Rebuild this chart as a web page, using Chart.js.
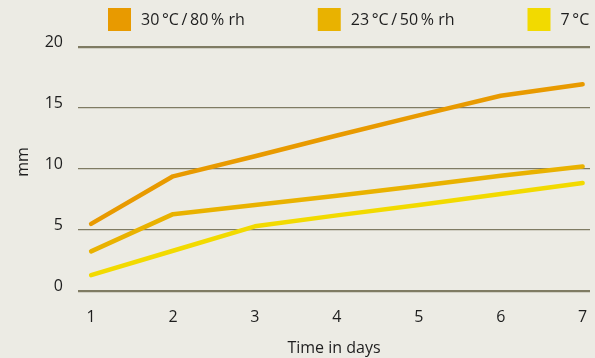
<!DOCTYPE html>
<html>
<head>
<meta charset="utf-8">
<script src="https://cdn.jsdelivr.net/npm/chart.js@4.4.1/dist/chart.umd.min.js"></script>
<style>
  html, body { margin: 0; padding: 0; background: #ecebe4; }
  #wrap { width: 595px; height: 358px; }
</style>
</head>
<body>
<div id="wrap"><canvas id="chart" width="595" height="358"></canvas></div>
<script>
const days = [1, 2, 3, 4, 5, 6, 7];
const labels = ['30\u2009°C\u2009/\u200980\u2009% rh', '23\u2009°C\u2009/\u200950\u2009% rh', '7\u2009°C'];
const hot = [5.5, 9.4, 11.05, 12.75, 14.4, 16.0, 16.95];
const mid = [3.25, 6.3, 7.05, 7.8, 8.6, 9.45, 10.2];
const cold = [1.3, 3.3, 5.3, 6.2, 7.05, 7.95, 8.85];
const yTicks = [0, 5, 10, 15, 20];

const colors = ['#e89a00', '#e9b200', '#f2da00'];
const fontFamily = '"Open Sans", "Noto Sans", sans-serif';
const textColor = '#1e1e1e';

function toPoints(values) {
    return values.map((v, i) => ({ x: days[i], y: v }));
}

function makeSet(i, values) {
    return {
        label: labels[i],
        data: toPoints(values),
        borderColor: colors[i],
        backgroundColor: colors[i],
        borderWidth: 4.5,
        borderCapStyle: 'round',
        borderJoinStyle: 'round',
        pointRadius: 0,
        tension: 0,
        clip: false
    };
}

// background, legend row and the rotated "mm" label
const paperPlugin = {
    id: 'paper',
    beforeDraw(chart) {
        const ctx = chart.ctx;
        ctx.save();
        ctx.fillStyle = '#ecebe4';
        ctx.fillRect(0, 0, chart.width, chart.height);
        ctx.restore();
    },
    afterDraw(chart) {
        const ctx = chart.ctx;
        ctx.save();
        ctx.font = '16px ' + fontFamily;
        ctx.textBaseline = 'middle';
        let x = 108;
        chart.data.datasets.forEach((ds) => {
            ctx.fillStyle = ds.borderColor;
            ctx.fillRect(x, 8, 23, 23);
            ctx.fillStyle = textColor;
            ctx.fillText(ds.label, x + 33, 20);
            x += 33 + ctx.measureText(ds.label).width + 73;
        });

        ctx.translate(23, 162);
        ctx.rotate(-Math.PI / 2);
        ctx.textAlign = 'center';
        ctx.fillText('mm', 0, 0);
        ctx.restore();
    }
};

new Chart(document.getElementById('chart'), {
    type: 'line',
    data: {
        datasets: [makeSet(0, hot), makeSet(1, mid), makeSet(2, cold)]
    },
    options: {
        responsive: false,
        animation: false,
        layout: { padding: { top: 47, right: 5, left: 0, bottom: 0 } },
        plugins: {
            legend: { display: false },
            tooltip: { enabled: false }
        },
        scales: {
            x: {
                type: 'linear',
                min: 0.84,
                max: 7.09,
                afterBuildTicks: scale => { scale.ticks = days.map(v => ({ value: v })); },
                afterFit: scale => {
                    scale.height = 67;
                    scale.paddingLeft = 0;
                    scale.paddingRight = 0;
                },
                grid: { display: false, drawTicks: false },
                border: { display: false },
                ticks: {
                    padding: 17,
                    color: textColor,
                    font: { family: fontFamily, size: 16 }
                },
                title: {
                    display: true,
                    text: 'Time in days',
                    color: textColor,
                    padding: { top: 3, bottom: 0 },
                    font: { family: fontFamily, size: 16 }
                }
            },
            y: {
                min: 0,
                max: 20,
                afterBuildTicks: scale => { scale.ticks = yTicks.map(v => ({ value: v })); },
                afterFit: scale => { scale.width = 78; },
                grid: {
                    color: '#7f7b63',
                    drawTicks: false,
                    lineWidth: c => (c.tick && (c.tick.value === 0 || c.tick.value === 20)) ? 2.2 : 1.3
                },
                border: { display: false },
                ticks: {
                    padding: 15,
                    labelOffset: -5,
                    color: textColor,
                    font: { family: fontFamily, size: 16 }
                }
            }
        }
    },
    plugins: [paperPlugin]
});
</script>
</body>
</html>
